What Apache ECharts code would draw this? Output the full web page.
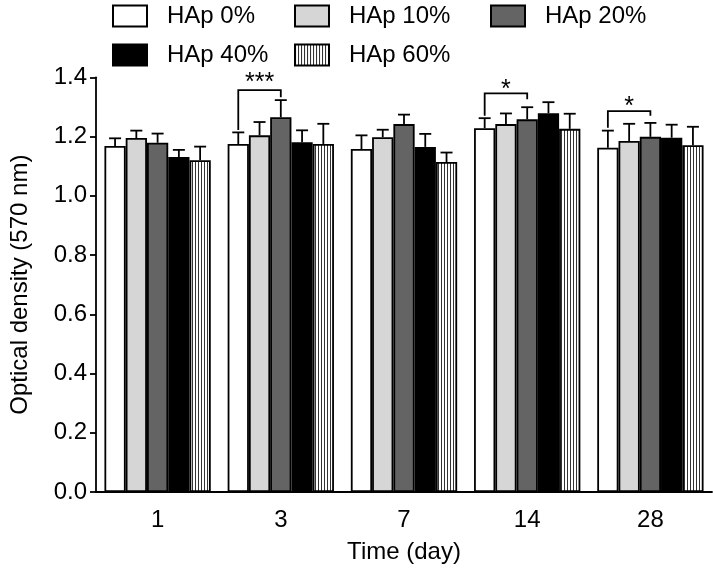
<!DOCTYPE html>
<html>
<head>
<meta charset="utf-8">
<script src="https://cdn.jsdelivr.net/npm/echarts@6/dist/echarts.min.js"></script>
<style>html,body{margin:0;padding:0;background:#fff}#c{width:713px;height:572px}</style>
</head>
<body>
<div id="c"></div>
<script>
const categories = ['1', '3', '7', '14', '28'];
const seriesNames = ['HAp 0%', 'HAp 10%', 'HAp 20%', 'HAp 40%', 'HAp 60%'];
const hap0 = [1.168, 1.175, 1.158, 1.228, 1.162];
const hap10 = [1.195, 1.204, 1.198, 1.242, 1.185];
const hap20 = [1.179, 1.265, 1.242, 1.258, 1.199];
const hap40 = [1.131, 1.181, 1.165, 1.279, 1.196];
const hap60 = [1.120, 1.175, 1.114, 1.226, 1.171];
const err0 = [0.026, 0.039, 0.046, 0.034, 0.058];
const err10 = [0.025, 0.045, 0.025, 0.036, 0.058];
const err20 = [0.031, 0.058, 0.032, 0.041, 0.047];
const err40 = [0.024, 0.040, 0.044, 0.037, 0.044];
const err60 = [0.046, 0.068, 0.032, 0.051, 0.062];
const yTicks = [0, 0.2, 0.4, 0.6, 0.8, 1.0, 1.2, 1.4];
// significance brackets
const bracketCat = [1, 3, 4];
const bracketFrom = [0, 0, 0];
const bracketTo = [2, 2, 2];
const bracketTop = [1.357, 1.346, 1.286];
const bracketLeftEnd = [1.222, 1.270, 1.230];
const bracketRightEnd = [1.333, 1.326, 1.270];
const bracketStarY = [1.400, 1.377, 1.318];
const bracketLabels = ['***', '*', '*'];

const means = [hap0, hap10, hap20, hap40, hap60];
const errs = [err0, err10, err20, err40, err60];

const FONT = 'Liberation Sans, Arial, Helvetica, sans-serif';
const GAP = 0.137;
const LW = 1.8;
const fills = ['#ffffff', '#d6d6d6', '#646464', '#000000', null];

function hatch() {
  const cv = document.createElement('canvas');
  cv.width = 3; cv.height = 3;
  const ctx = cv.getContext('2d');
  ctx.fillStyle = '#ffffff'; ctx.fillRect(0, 0, 3, 3);
  ctx.fillStyle = '#333333'; ctx.fillRect(0, 0, 1, 3);
  return { image: cv, repeat: 'repeat' };
}
fills[4] = hatch();

function barX(api, cat, idx) {
  const c = api.coord([cat, 0]);
  const band = api.size([1, 0])[0];
  const total = band * (1 - GAP);
  const w = total / 5;
  return c[0] - total / 2 + w * (idx + 0.5);
}

const series = [];
seriesNames.forEach((n, i) => {
  series.push({
    name: n, type: 'bar', data: means[i],
    barGap: '0%', barCategoryGap: (GAP * 100) + '%',
    itemStyle: { color: fills[i], borderColor: '#000', borderWidth: LW },
    emphasis: { disabled: true }, z: 2
  });
});
seriesNames.forEach((n, i) => {
  series.push({
    type: 'custom', z: 3, clip: false, silent: true,
    data: categories.map((c, k) => [k, means[i][k], errs[i][k]]),
    renderItem: function (params, api) {
      const k = api.value(0);
      const x = barX(api, k, i);
      const y0 = api.coord([k, api.value(1)])[1];
      const y1 = api.coord([k, api.value(1) + api.value(2)])[1];
      const st = { stroke: '#000', lineWidth: LW };
      return { type: 'group', children: [
        { type: 'line', shape: { x1: x, y1: y0, x2: x, y2: y1 }, style: st },
        { type: 'line', shape: { x1: x - 6, y1: y1, x2: x + 6, y2: y1 }, style: st }
      ]};
    }
  });
});
series.push({
  type: 'custom', z: 4, clip: false, silent: true,
  data: bracketCat.map((c, j) => [c, bracketFrom[j], bracketTo[j], bracketTop[j], bracketLeftEnd[j], bracketRightEnd[j], bracketStarY[j], j]),
  renderItem: function (params, api) {
    const k = api.value(0);
    const j = api.value(7);
    const xl = barX(api, k, api.value(1));
    const xr = barX(api, k, api.value(2));
    const yt = api.coord([k, api.value(3)])[1];
    const yl = api.coord([k, api.value(4)])[1];
    const yr = api.coord([k, api.value(5)])[1];
    const ys = api.coord([k, api.value(6)])[1];
    const st = { stroke: '#000', lineWidth: LW, fill: null };
    return { type: 'group', children: [
      { type: 'polyline', shape: { points: [[xl, yl], [xl, yt], [xr, yt], [xr, yr]] }, style: st },
      { type: 'text', style: { text: bracketLabels[j], x: (xl + xr) / 2, y: ys + 6, align: 'center', verticalAlign: 'middle', fontSize: 25, fontFamily: FONT, fill: '#000' } }
    ]};
  }
});

const legendBase = {
  orient: 'vertical', padding: 0, itemWidth: 34, itemHeight: 21, itemGap: 15,
  icon: 'rect', selectedMode: false,
  textStyle: { fontSize: 24, fontFamily: FONT, color: '#000', padding: [0, 0, 0, 15] }
};

const chart = echarts.init(document.getElementById('c'), null, { renderer: 'canvas' });
chart.setOption({
  animation: false,
  backgroundColor: '#fff',
  legend: [
    Object.assign({}, legendBase, { left: 112, top: 4, data: ['HAp 0%', 'HAp 40%'] }),
    Object.assign({}, legendBase, { left: 294, top: 4, data: ['HAp 10%', 'HAp 60%'] }),
    Object.assign({}, legendBase, { left: 490, top: 4, data: ['HAp 20%'] })
  ],
  grid: { left: 96, right: 1, top: 77.3, bottom: 80, containLabel: false },
  xAxis: {
    type: 'category', data: categories,
    axisLine: { lineStyle: { color: '#000', width: LW } },
    axisTick: { length: 8, lineStyle: { color: '#000', width: LW } },
    axisLabel: { fontSize: 24, fontFamily: FONT, color: '#000', margin: 16 },
    name: 'Time (day)', nameLocation: 'middle', nameGap: 48,
    nameTextStyle: { fontSize: 24, fontFamily: FONT, color: '#000' }
  },
  yAxis: {
    type: 'value', min: 0, max: 1.4, interval: 0.2,
    axisLine: { show: true, lineStyle: { color: '#000', width: LW } },
    axisTick: { show: true, length: 6, lineStyle: { color: '#000', width: LW } },
    splitLine: { show: false },
    axisLabel: { fontSize: 24, fontFamily: FONT, color: '#000', margin: 9,
      formatter: v => v.toFixed(1) },
    name: 'Optical density (570 nm)', nameLocation: 'middle', nameGap: 64, nameRotate: 90,
    nameTextStyle: { fontSize: 24, fontFamily: FONT, color: '#000' }
  },
  series: series
});
</script>
</body>
</html>
